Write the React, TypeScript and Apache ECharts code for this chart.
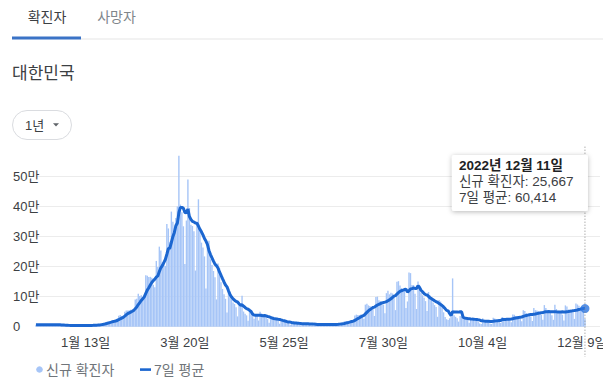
import React, { useEffect, useRef } from 'react';
import * as echarts from 'echarts';

// ---- data (daily new cases, Korea, 2021-12-11 .. 2022-12-11) ----
const PRIOR_6_DAYS = [4325, 4954, 7175, 7102, 7022, 6977]; // 2021-12-05 .. 12-10 (for the 7-day mean)
const DEC_2021 = [6689, 5817, 5567, 7850, 7622, 7435, 7314, 6236, 5318, 5202, 7456, 7455, 6919, 6233, 5842, 5419, 4207, 5409, 5037, 4875, 4416];
const JAN_2022 = [3833, 3126, 3024, 4442, 4126, 3717, 3511, 3376, 3005, 3094, 4388, 4542, 4167, 4423, 4194, 3857, 4071, 5805, 6603, 6769, 7009, 7630, 7513, 8571, 13012, 14518, 16096, 17542, 17532, 18342, 20270];
const FEB_2022 = [20908, 22907, 27443, 36362, 38689, 35286, 36719, 49567, 54122, 53926, 54941, 56431, 54619, 57177, 90443, 93135, 109831, 102211, 104829, 95362, 99573, 171452, 170016, 165890, 166209, 163565, 139626, 131764];
const MAR_2022 = [219241, 198803, 266853, 254327, 214579, 210716, 202721, 342446, 327549, 282987, 383665, 350190, 309790, 362338, 400741, 570000, 407017, 381454, 334708, 209169, 353980, 490881, 395598, 339514, 335580, 318130, 187213, 347554, 424641, 320743, 280273];
const APR_2022 = [264171, 234301, 127169, 266135, 286294, 224820, 205333, 185566, 164481, 90928, 210755, 195419, 148443, 125846, 107916, 93001, 47743, 118504, 111319, 90867, 81058, 75449, 64725, 34370, 76787, 76497, 103000, 50568, 43000, 37771];
const MAY_2022 = [20084, 51126, 49064, 42296, 26714, 40064, 38617, 20601, 49933, 43925, 35906, 32451, 29581, 25434, 13296, 35117, 29925, 26006, 23947, 25125, 19298, 9975, 23956, 18816, 16584, 14410, 14598, 12542, 6141, 16580, 13358];
const JUN_2022 = [10060, 12542, 9893, 9830, 4425, 6171, 13358, 12155, 11826, 9314, 8440, 3823, 5022, 9643, 9437, 8396, 7198, 6068, 3530, 9292, 9305, 7497, 7216, 6243, 6242, 3423, 9595, 10455, 9528, 10715];
const JUL_2022 = [10059, 9528, 6254, 18147, 19371, 18511, 19323, 20410, 20383, 12693, 37360, 40266, 39196, 38882, 40342, 40266, 26299, 73582, 76402, 71170, 68632, 65433, 65373, 35883, 99327, 100285, 88384, 85285, 82002, 73589, 44689];
const AUG_2022 = [111789, 119922, 107894, 112901, 110666, 105507, 55292, 149897, 151792, 137241, 128714, 124592, 119603, 62078, 84128, 180803, 178574, 138812, 138817, 110000, 59046, 150267, 139339, 113371, 104604, 96792, 85295, 52000, 115615, 103961, 95000];
const SEP_2022 = [81000, 72000, 66000, 33000, 89000, 84000, 70000, 48000, 32000, 25000, 22000, 28000, 35000, 161000, 38000, 33000, 28000, 17000, 36000, 34000, 30000, 27000, 25000, 23000, 13000, 30000, 29000, 27000, 24000, 21000];
const OCT_2022 = [16000, 11000, 9000, 28000, 22000, 20000, 19000, 16000, 10000, 9000, 30000, 27000, 25000, 23000, 20000, 12000, 32000, 30000, 28000, 27000, 25000, 21000, 15000, 41000, 40000, 35000, 34000, 31000, 27000, 18000, 55000];
const NOV_2022 = [52000, 45000, 42000, 39000, 34000, 19000, 62000, 55000, 54000, 51000, 47000, 39000, 23000, 72000, 62000, 56000, 53000, 46000, 38000, 23000, 73000, 59000, 53000, 50000, 48000, 40000, 21000, 71000, 67000, 57000];
const DEC_2022 = [56000, 52000, 47000, 26000, 77604, 74000, 70000, 64000, 61000, 50627, 25667];

const X_TICK_LABELS = ['1월 13일', '3월 20일', '5월 25일', '7월 30일', '10월 4일', '12월 9일'];
const Y_MAX = 600000;
const Y_STEP = 100000;
const EXTRA_DAYS = 10; // empty room at the right end of the axis
const SERIES_NAMES = ['신규 확진자', '7일 평균'];
const TABS = ['확진자', '사망자'];
const REGION = '대한민국';
const RANGE_LABEL = '1년';

const daily = [
  ...DEC_2021, ...JAN_2022, ...FEB_2022, ...MAR_2022, ...APR_2022, ...MAY_2022,
  ...JUN_2022, ...JUL_2022, ...AUG_2022, ...SEP_2022, ...OCT_2022, ...NOV_2022, ...DEC_2022,
];
const allValues = [...PRIOR_6_DAYS, ...daily];
const avg7 = daily.map((_, i) => Math.round(allValues.slice(i, i + 7).reduce((a, b) => a + b, 0) / 7));

const categories: string[] = [];
const fullDates: string[] = [];
for (let i = 0; i < daily.length + EXTRA_DAYS; i++) {
  const dt = new Date(Date.UTC(2021, 11, 11 + i));
  categories.push(`${dt.getUTCMonth() + 1}월 ${dt.getUTCDate()}일`);
  fullDates.push(`${dt.getUTCFullYear()}년 ${dt.getUTCMonth() + 1}월 ${dt.getUTCDate()}일`);
}

const FONT = '"Liberation Sans", Arial, "Noto Sans CJK KR", sans-serif';
const BAR_COLOR = '#a6c5f7';
const LINE_COLOR = '#1b66d0';

function txt(text: string, x: number, y: number, size: number, fill: string, align = 'left', weight = 'normal', z = 10) {
  return {
    type: 'text',
    z,
    style: {
      text, x, y, fill,
      font: `${weight} ${size}px ${FONT}`,
      textAlign: align, align,
      textVerticalAlign: 'middle', verticalAlign: 'middle',
    },
  };
}

export default function App() {
  const ref = useRef<HTMLDivElement>(null);
  useEffect(() => {
    if (!ref.current) return;
    const chart = echarts.init(ref.current, undefined, { renderer: 'svg' });
    chart.setOption({
      animation: false,
      textStyle: { fontFamily: FONT },
      grid: { left: 36, right: 3, top: 146.7, bottom: 60.3, containLabel: false, outerBoundsMode: 'none' },
      xAxis: {
        type: 'category',
        data: categories,
        boundaryGap: false,
        axisLine: { show: false },
        axisTick: { show: false },
        splitLine: { show: false },
        axisLabel: {
          interval: (_idx: number, val: string) => X_TICK_LABELS.includes(val),
          color: '#3c4043',
          fontSize: 13,
          fontFamily: FONT,
          margin: 9,
        },
      },
      yAxis: {
        type: 'value',
        min: 0,
        max: Y_MAX,
        interval: Y_STEP,
        axisLine: { show: false },
        axisTick: { show: false },
        axisLabel: {
          align: 'left',
          margin: 23,
          color: '#3c4043',
          fontSize: 13,
          fontFamily: FONT,
          showMaxLabel: false,
          formatter: (v: number) => (v === 0 ? '0' : v >= Y_MAX ? '' : `${v / 10000}만`),
        },
        splitLine: { showMaxLine: false, lineStyle: { color: '#ececec', width: 1 } },
      },
      series: [
        {
          name: SERIES_NAMES[0],
          type: 'bar',
          data: daily,
          barWidth: 1.4,
          itemStyle: { color: BAR_COLOR },
          silent: true,
        },
        {
          name: SERIES_NAMES[1],
          type: 'line',
          data: avg7,
          symbol: 'none',
          lineStyle: { color: LINE_COLOR, width: 3 },
          z: 3,
          silent: true,
        },
        {
          type: 'scatter',
          data: [[daily.length - 1, avg7[avg7.length - 1]]],
          symbolSize: 9,
          itemStyle: { color: '#2a74e0' },
          z: 5,
          silent: true,
        },
      ],
    });

    const last = daily.length - 1;
    const p = chart.convertToPixel({ xAxisIndex: 0, yAxisIndex: 0 }, [last, avg7[last]]) as number[];
    const px = p[0];
    const tipW = 136;
    const tipX = px - tipW + 3;
    const tipY = 155;

    chart.setOption({
      graphic: {
        elements: [
          txt(TABS[0], 47, 17, 14, '#3c4043', 'center'),
          txt(TABS[1], 116.5, 17, 14, '#80868b', 'center'),
          { type: 'rect', z: 10, shape: { x: 81, y: 38.5, width: 522, height: 1 }, style: { fill: '#e6e6e6' } },
          { type: 'rect', z: 11, shape: { x: 12, y: 36.5, width: 69, height: 3 }, style: { fill: '#3b73c6' } },
          txt(REGION, 12, 73, 17, '#3c4043', 'left'),
          { type: 'rect', z: 10, shape: { x: 12.5, y: 110.5, width: 59, height: 29, r: 14.5 }, style: { fill: '#fff', stroke: '#dadce0', lineWidth: 1 } },
          txt(RANGE_LABEL, 25, 125, 13, '#3c4043', 'left'),
          { type: 'polygon', z: 11, shape: { points: [[53, 123.3], [59, 123.3], [56, 126.5]] }, style: { fill: '#5f6368' } },
          { type: 'circle', z: 10, shape: { cx: 39.5, cy: 369.5, r: 3.3 }, style: { fill: BAR_COLOR } },
          txt(SERIES_NAMES[0], 46, 369.5, 14, '#70757a', 'left'),
          { type: 'rect', z: 10, shape: { x: 140, y: 368.3, width: 11, height: 2.6 }, style: { fill: LINE_COLOR } },
          txt(SERIES_NAMES[1], 154, 369.5, 14, '#70757a', 'left'),
          {
            type: 'line', z: 20,
            shape: { x1: px, y1: 146.7, x2: px, y2: 357 },
            style: { stroke: '#888', lineWidth: 1, lineDash: [1, 2] },
          },
          {
            type: 'rect', z: 30,
            shape: { x: tipX, y: tipY, width: tipW, height: 56, r: 2 },
            style: { fill: '#fff', shadowBlur: 5, shadowColor: 'rgba(0,0,0,0.28)', shadowOffsetY: 1 },
          },
          txt(fullDates[last], tipX + 7, tipY + 10.5, 13.5, '#202124', 'left', 'bold', 31),
          txt(`${SERIES_NAMES[0]}: ${daily[last].toLocaleString('en-US')}`, tipX + 7, tipY + 26.5, 13.5, '#3c4043', 'left', 'normal', 31),
          txt(`${SERIES_NAMES[1]}: ${avg7[last].toLocaleString('en-US')}`, tipX + 7, tipY + 42.5, 13.5, '#3c4043', 'left', 'normal', 31),
        ],
      },
    });

    return () => chart.dispose();
  }, []);

  return (
    <div style={{ position: 'absolute', left: 0, top: 0, width: 615, height: 387, background: '#fff' }}>
      <div ref={ref} style={{ position: 'absolute', left: 0, top: 0, width: 603, height: 387 }} />
    </div>
  );
}
